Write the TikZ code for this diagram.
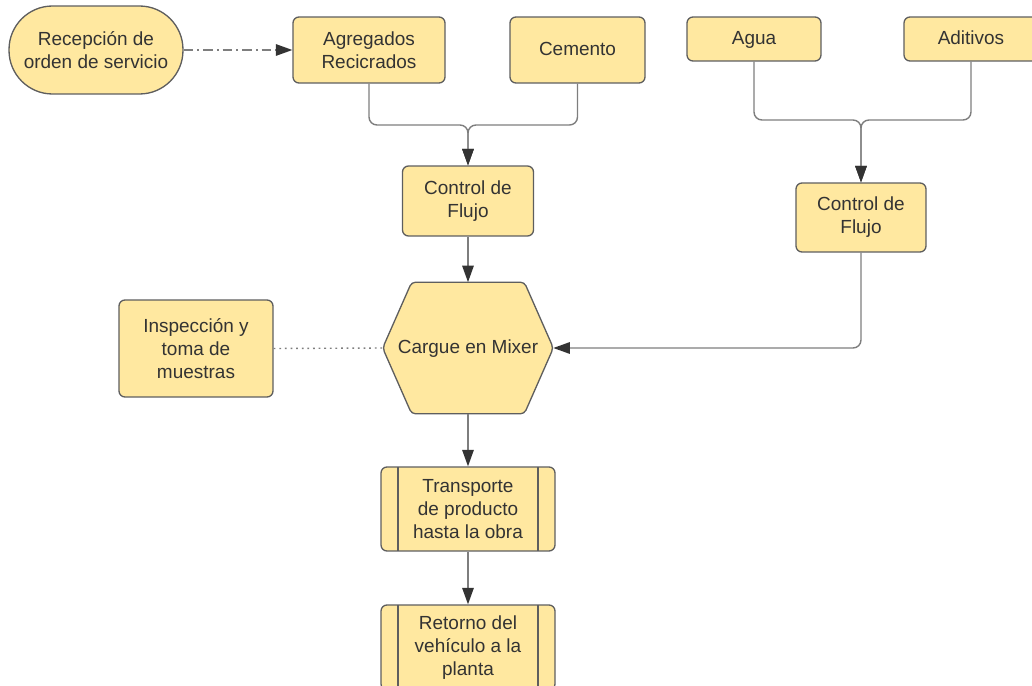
\documentclass[tikz,border=0pt]{standalone}
\usepackage{fontspec}
\setmainfont{Liberation Sans}
\usetikzlibrary{arrows.meta, backgrounds}
\definecolor{boxFill}{HTML}{FFE8A0}
\definecolor{boxLine}{HTML}{5E5E5E}
\definecolor{cLink} {HTML}{7E7E7E}
\definecolor{cTip}  {HTML}{333333}
\definecolor{cText} {HTML}{333333}

\begin{document}
\begin{tikzpicture}[x=0.02cm, y=-0.02cm,
    box/.style={draw=boxLine, fill=boxFill, line width=0.75pt, rounded corners=0.12cm,
      align=center, text=cText, font=\fontsize{10.8}{13.1}\selectfont, inner sep=2pt},
    oneline/.style={text height=1.6ex, text depth=0.5ex},
    subproc/.style={box, path picture={
        \draw[boxLine, line width=0.75pt]
          ([xshift=0.34cm]path picture bounding box.north west) -- ([xshift=0.34cm]path picture bounding box.south west)
          ([xshift=-0.34cm]path picture bounding box.north east) -- ([xshift=-0.34cm]path picture bounding box.south east);}},
    link/.style={draw=cLink, line width=0.8pt, rounded corners=0.16cm},
    arr/.style={-{Triangle[length=0.33cm, width=0.23cm, color=cTip]}},
  ]
  \useasboundingbox (0,0) rectangle (1032,686);

  % entradas
  \node[box, rounded corners=0.87cm, minimum width=3.48cm, minimum height=1.76cm]
    (rec) at (96,50) {Recepción de\\orden de servicio};
  \node[box, minimum width=3.04cm, minimum height=1.32cm] (agr) at (369,50) {Agregados\\Recicrados};
  \node[box, oneline, minimum width=2.7cm, minimum height=1.32cm] (cem) at (577.5,50) {Cemento};
  \node[box, oneline, minimum width=2.68cm, minimum height=0.88cm] (agua) at (754,39) {Agua};
  \node[box, oneline, minimum width=2.68cm, minimum height=0.88cm] (adit) at (971,39) {Aditivos};

  % control de flujo
  \node[box, minimum width=2.62cm, minimum height=1.4cm] (ctl1) at (468,201) {Control de\\Flujo};
  \node[box, minimum width=2.6cm, minimum height=1.38cm] (ctl2) at (861,217.5) {Control de\\Flujo};
  \coordinate (m1) at (468,125);
  \coordinate (m2) at (861,120);

  % mezcla
  \node[oneline, minimum width=3.4cm, minimum height=2.62cm, text=cText, font=\fontsize{10.8}{13.1}\selectfont]
    (mix) at (468,348) {Cargue en Mixer};
  \begin{scope}[on background layer]
    \draw[draw=boxLine, fill=boxFill, line width=0.75pt, rounded corners=0.08cm]
      (mix.west) -- ([xshift=0.58cm]mix.north west) -- ([xshift=-0.58cm]mix.north east)
      -- (mix.east) -- ([xshift=-0.58cm]mix.south east) -- ([xshift=0.58cm]mix.south west) -- cycle;
  \end{scope}
  \node[box, minimum width=3.08cm, minimum height=1.94cm] (insp) at (196,348.5) {Inspección y\\toma de\\muestras};

  % salida
  \node[subproc, minimum width=3.48cm, minimum height=1.68cm] (trans) at (468,509) {Transporte\\de producto\\hasta la obra};
  \node[subproc, minimum width=3.48cm, minimum height=1.7cm] (ret) at (468,647.5) {Retorno del\\vehículo a la\\planta};

  \draw[link, arr, dash pattern=on 5.5pt off 2.3pt on 1pt off 2.3pt] (rec.east) -- (agr.west);
  \draw[link, arr] (agr.south) |- (m1) -- (ctl1.north);
  \draw[link, arr] (cem.south) |- (m1) -- (ctl1.north);
  \draw[link, arr] (agua.south) |- (m2) -- (ctl2.north);
  \draw[link, arr] (adit.south) |- (m2) -- (ctl2.north);
  \draw[link, arr] (ctl1.south) -- (mix.north);
  \draw[link, arr] (ctl2.south) |- (mix.east);
  \draw[link, dash pattern=on 1pt off 2.2pt] (insp.east) -- (mix.west);
  \draw[link, arr] (mix.south) -- (trans.north);
  \draw[link, arr] (trans.south) -- (ret.north);
\end{tikzpicture}
\end{document}
